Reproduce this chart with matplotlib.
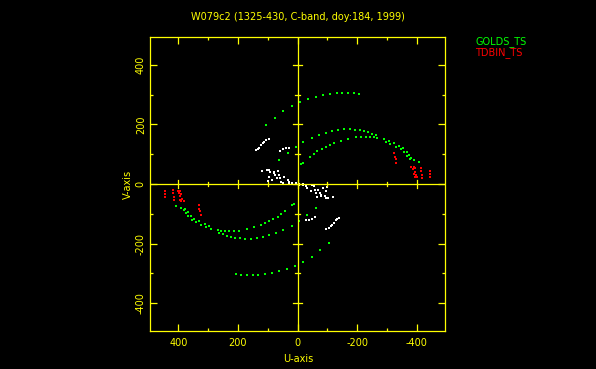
import matplotlib
matplotlib.use("Agg")
import matplotlib.pyplot as plt
import numpy as np

# UV coverage (one half of the tracks, units of the axes).
# Every visibility also shows up at (-u, -v), so the other half is mirrored below.
golds_u = [107, 77, 49, 18, -8, -35, -61, -85, -108, -131, -151, -171, -190, -206,
           61, 33, 5, -20, -47, -73, -95, -117, -137, -156, -175, -193, -209, -223,
           -236, -251, -262, -296, -312, -329, -346, -357, -368, -379,
           -11, -20, -41, -55, -67, -81, -95, -110, -123, -145, -170, -195, -212, -229,
           -243, -257, -268, -290, -307, -323, -340, -355, -366, -374, -381, -390, -407]
golds_v = [197, 223, 245, 261, 276, 285, 293, 299, 304, 307, 307, 307, 306, 304,
           80, 105, 125, 140, 154, 165, 172, 177, 180, 184, 184, 183, 180, 178,
           175, 169, 163, 142, 133, 125, 118, 109, 94, 83,
           66, 71, 92, 101, 111, 118, 125, 131, 137, 145, 151, 157, 157, 159,
           159, 158, 156, 151, 145, 137, 128, 120, 109, 97, 88, 81, 75]

tdbin_u = [-323, -326, -329, -331,
           -381, -390, -394, -388, -396, -390, -398, -394, -401,
           -416, -416, -418, -418,
           -444, -446, -446]
tdbin_v = [103, 92, 83, 72,
           58, 58, 53, 49, 41, 33, 30, 22, 22,
           55, 44, 30, 19,
           45, 34, 22]

other_u = [139, 134, 128, 122, 117, 111, 106, 97,
           58, 47, 38, 28,
           119, 95, 91, 97, 87, 78, 75, 67, 59, 50, 33, 28, 17, 6, -6, -17, -28,
           70, 62, 84, 54, 80, 44, 102, 100]
other_v = [113, 118, 122, 131, 137, 142, 148, 150,
           112, 118, 120, 122,
           45, 47, 39, 25, 13, 41, 30, 44, 19, 2, 13, 2, -1, 3, 0, -3, -6,
           20, 30, 15, 8, 36, 24, 48, 10]

u_ticks = [400, 200, 0, -200, -400]
v_ticks = [-400, -200, 0, 200, 400]

YEL = "#ffff00"

fig = plt.figure(figsize=(5.96, 3.69), dpi=100, facecolor="black")
ax = fig.add_axes([150 / 596, 1 - 331 / 369, 295 / 596, 294 / 369], facecolor="black")


def both_halves(u, v):
    u = np.asarray(u, float)
    v = np.asarray(v, float)
    return np.concatenate([u, -u]), np.concatenate([v, -v])


for uu, vv, col in [(other_u, other_v, "white"),
                    (golds_u, golds_v, "#00ff00"),
                    (tdbin_u, tdbin_v, "#ff0000")]:
    x, y = both_halves(uu, vv)
    ax.plot(x, y, ls="none", marker="s", ms=2.0, mew=0, color=col)

ax.set_xlim(495, -495)
ax.set_ylim(-494, 494)

# axes through the origin, with their own ticks
ax.axhline(0, color=YEL, lw=0.9)
ax.axvline(0, color=YEL, lw=0.9)
for t in range(-400, 401, 100):
    L = 15 if t % 200 == 0 else 8
    ax.plot([t, t], [-L, L], color=YEL, lw=0.9)
    ax.plot([-L, L], [t, t], color=YEL, lw=0.9)

for s in ax.spines.values():
    s.set_color(YEL)
    s.set_linewidth(0.9)

ax.set_xticks(u_ticks)
ax.set_yticks(v_ticks)
ax.set_xticks(range(-400, 401, 100), minor=True)
ax.set_yticks(range(-400, 401, 100), minor=True)
ax.tick_params(which="both", direction="in", top=True, right=True, color=YEL, width=0.9,
               labelcolor=YEL, labelsize=7)
ax.tick_params(which="major", length=5)
ax.tick_params(which="minor", length=2.5)
ax.tick_params(axis="x", pad=5)
ax.tick_params(axis="y", pad=3)
ax.set_xticklabels([str(t) for t in u_ticks])
ax.set_yticklabels([str(t) for t in v_ticks], rotation=90, va="center")

fig.text(298 / 596, 1 - 17 / 369, "W079c2 (1325-430, C-band, doy:184, 1999)",
         color=YEL, fontsize=7, ha="center", va="center")
fig.text(298 / 596, 1 - 359 / 369, "U-axis", color=YEL, fontsize=7, ha="center", va="center")
fig.text(128 / 596, 1 - 184 / 369, "V-axis", color=YEL, fontsize=7, ha="center", va="center",
         rotation=90)
fig.text(475 / 596, 1 - 42 / 369, "GOLDS_TS", color="#00ff00", fontsize=7, ha="left", va="center")
fig.text(475 / 596, 1 - 53 / 369, "TDBIN_TS", color="#ff0000", fontsize=7, ha="left", va="center")

fig.savefig("out.png", dpi=100, facecolor="black")
